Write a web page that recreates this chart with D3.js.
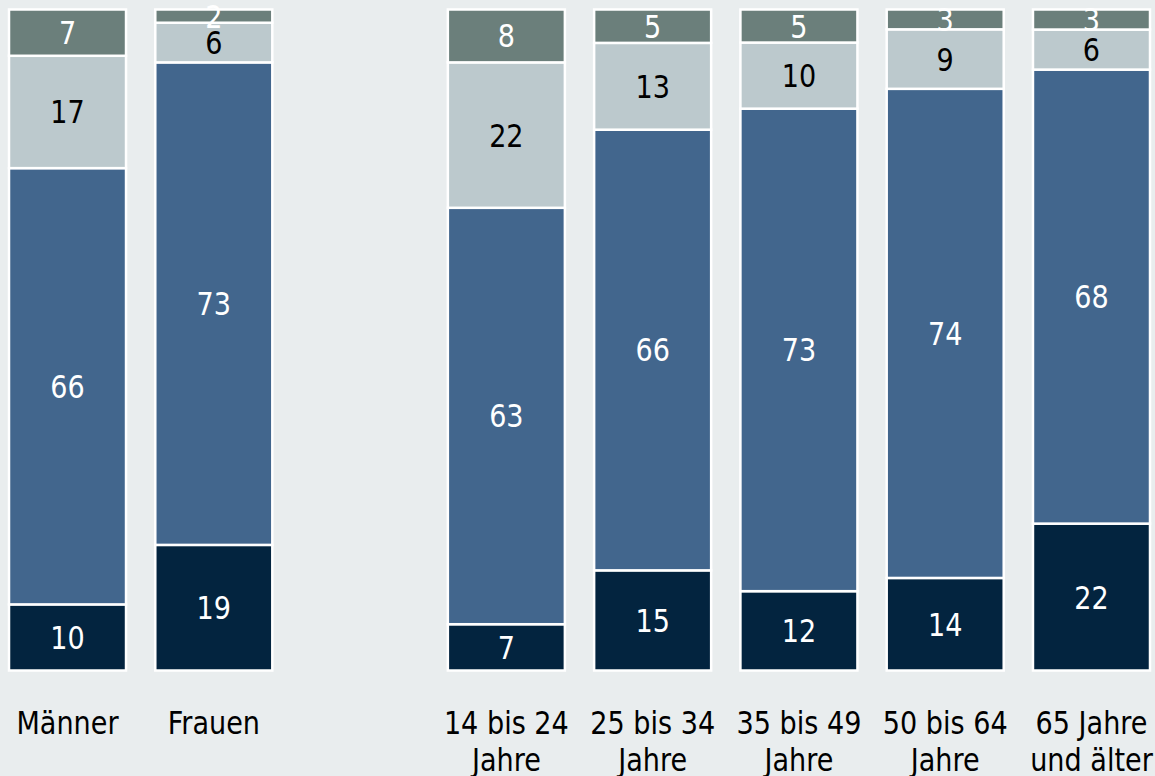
<!DOCTYPE html>
<html>
<head>
<meta charset="utf-8">
<script src="https://cdn.jsdelivr.net/npm/d3@7"></script>
<style>
  body { margin: 0; background: #e9edee; }
  svg { display: block; font-family: "DejaVu Sans", Verdana, sans-serif; }
</style>
</head>
<body>
<svg width="1155" height="776"></svg>
<script>
// categories (the empty one is the gap between the two groups)
const categories = ['Männer', 'Frauen', '', '14 bis 24 Jahre', '25 bis 34 Jahre', '35 bis 49 Jahre', '50 bis 64 Jahre', '65 Jahre und älter']
const cat_lines = {
    'Männer': ['Männer'],
    'Frauen': ['Frauen'],
    '14 bis 24 Jahre': ['14 bis 24', 'Jahre'],
    '25 bis 34 Jahre': ['25 bis 34', 'Jahre'],
    '35 bis 49 Jahre': ['35 bis 49', 'Jahre'],
    '50 bis 64 Jahre': ['50 bis 64', 'Jahre'],
    '65 Jahre und älter': ['65 Jahre', 'und älter']
}
const bar_cats = categories.filter(c => c !== '')

// series, bottom to top
const series_keys = ['s1', 's2', 's3', 's4']
const s1 = [10, 19, 7, 15, 12, 14, 22]
const s2 = [66, 73, 63, 66, 73, 74, 68]
const s3 = [17, 6, 22, 13, 10, 9, 6]
const s4 = [7, 2, 8, 5, 5, 3, 3]

const colors = ['#03243f', '#42668d', '#bcc9cd', '#6b7f7b']
const label_colors = ['#ffffff', '#ffffff', '#000000', '#ffffff']

const svg = d3.select('svg')
const width = 1155
const height = 776

svg.append('rect').attr('width', width).attr('height', height).attr('fill', '#e9edee')

const data = bar_cats.map((c, i) => ({ cat: c, s1: s1[i], s2: s2[i], s3: s3[i], s4: s4[i] }))

const x_scale = d3.scaleBand()
    .domain(categories)
    .range([9, 1150])
    .paddingInner(0.2)
    .paddingOuter(0)

const y_top = 9.5
const y_bottom = 670.5

const font_size = 31.5
const squeeze = 0.86   // narrow the font a bit, the original face is Tahoma-like

const stacked = d3.stack().keys(series_keys)(data)

const bars = svg.append('g')

data.forEach((d, i) => {
    const total = d3.sum(series_keys, k => d[k])
    const y_scale = d3.scaleLinear().domain([0, total]).range([y_bottom, y_top])
    const g = bars.append('g')
    const segs = stacked.map((layer, si) => ({ si: si, v0: layer[i][0], v1: layer[i][1], value: d[series_keys[si]] }))

    g.selectAll('rect').data(segs)
        .enter().append('rect')
        .attr('x', x_scale(d.cat))
        .attr('y', s => y_scale(s.v1))
        .attr('width', x_scale.bandwidth())
        .attr('height', s => y_scale(s.v0) - y_scale(s.v1))
        .attr('fill', s => colors[s.si])
        .attr('stroke', '#ffffff')
        .attr('stroke-width', 2.5)

    // digits centred on the segment middle
    g.selectAll('text').data(segs)
        .enter().append('text')
        .attr('transform', s => `translate(${x_scale(d.cat) + x_scale.bandwidth() / 2},${(y_scale(s.v0) + y_scale(s.v1)) / 2 + font_size * 0.3645}) scale(${squeeze},1)`)
        .attr('text-anchor', 'middle')
        .attr('font-size', font_size)
        .attr('fill', s => label_colors[s.si])
        .text(s => s.value)
})

// category labels
const labels = svg.append('g')
bar_cats.forEach(c => {
    const t = labels.append('text')
        .attr('transform', `translate(${x_scale(c) + x_scale.bandwidth() / 2},734) scale(${squeeze},1)`)
        .attr('text-anchor', 'middle')
        .attr('font-size', font_size)
        .attr('fill', '#000000')
    cat_lines[c].forEach((line, li) => {
        t.append('tspan').attr('x', 0).attr('y', li * 37).text(line)
    })
})
</script>
</body>
</html>
